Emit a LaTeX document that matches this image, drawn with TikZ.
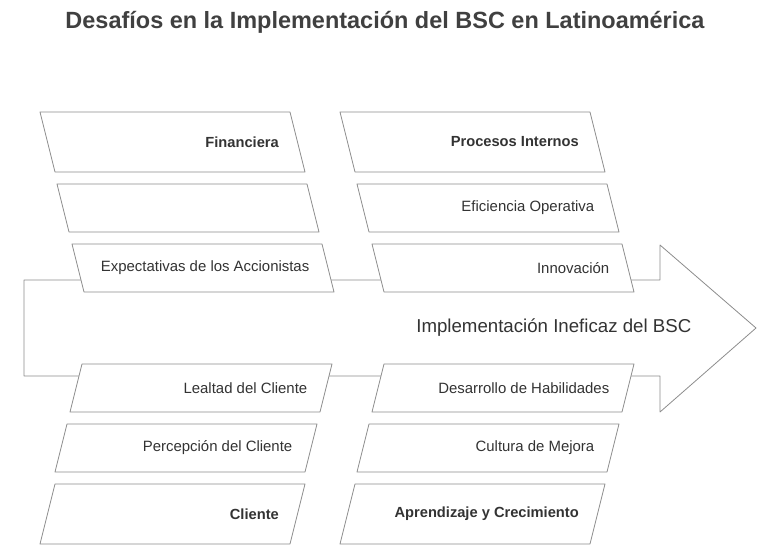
\documentclass[tikz,border=0pt]{standalone}
\usepackage{fontspec}
\setmainfont{Liberation Sans}
\begin{document}
\begin{tikzpicture}[x=0.75pt,y=-0.75pt,
  shp/.style={draw=black!45,fill=white,line width=0.6pt,line join=round},
  lbl/.style={anchor=east,font=\fontsize{11.2}{13}\selectfont,text=black!80},
  blbl/.style={lbl,font=\fontsize{11}{13}\selectfont\bfseries}]
\useasboundingbox (0,0) rectangle (780,559);
\node[font=\fontsize{17.6}{20}\selectfont\bfseries,text=black!75] (title) at (385,22) {Desafíos en la Implementación del BSC en Latinoamérica};
\draw[shp] (24,280) -- (660,280) -- (660,245) -- (756,328) -- (660,412) -- (660,376) -- (24,376) -- cycle;
\node[font=\fontsize{14}{16}\selectfont,text=black!80,anchor=east] (main) at (696,328) {Implementación Ineficaz del BSC};
\newcommand{\topbox}[6]{%
  \pgfmathsetmacro{\sl}{(#4-#3)/4}
  \draw[shp] (#2,#3) -- (#2+250,#3) -- (#2+250+\sl,#4) -- (#2+\sl,#4) -- cycle;
  \node[#6] (#1) at (#2+250+\sl/2-14,{(#3+#4)/2}) {#5};}
\newcommand{\botbox}[6]{%
  \pgfmathsetmacro{\sl}{(#4-#3)/4}
  \draw[shp] (#2+\sl,#3) -- (#2+250+\sl,#3) -- (#2+250,#4) -- (#2,#4) -- cycle;
  \node[#6] (#1) at (#2+250+\sl/2-14,{(#3+#4)/2}) {#5};}
\topbox{fin}{40}{112}{172}{Financiera}{blbl}
\topbox{emp}{57}{184}{232}{}{lbl}
\topbox{exp}{72}{244}{292}{Expectativas de los Accionistas}{lbl}
\topbox{pro}{340}{112}{172}{Procesos Internos}{blbl}
\topbox{efi}{357}{184}{232}{Eficiencia Operativa}{lbl}
\topbox{inn}{372}{244}{292}{Innovación}{lbl}
\botbox{lea}{70}{364}{412}{Lealtad del Cliente}{lbl}
\botbox{per}{55}{424}{472}{Percepción del Cliente}{lbl}
\botbox{cli}{40}{484}{544}{Cliente}{blbl}
\botbox{des}{372}{364}{412}{Desarrollo de Habilidades}{lbl}
\botbox{cul}{357}{424}{472}{Cultura de Mejora}{lbl}
\botbox{apr}{340}{484}{544}{Aprendizaje y Crecimiento}{blbl}
\end{tikzpicture}
\end{document}
